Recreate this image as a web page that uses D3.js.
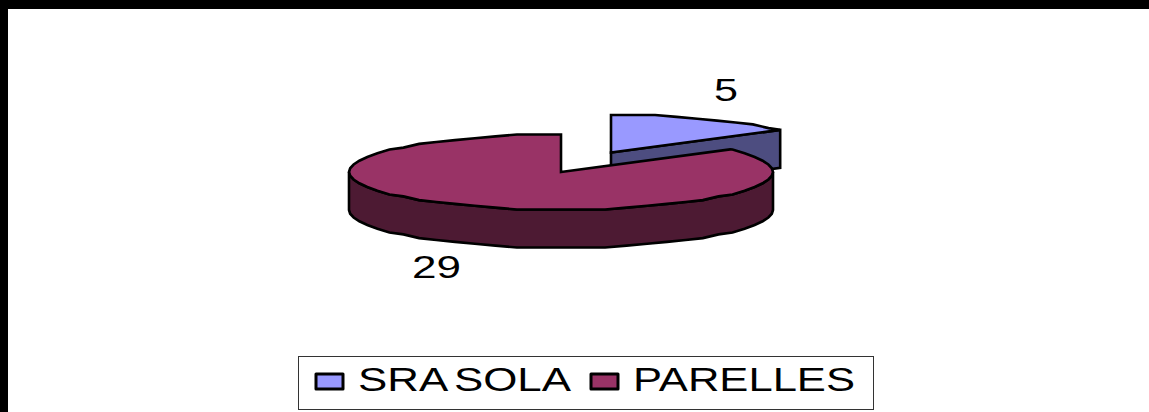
<!DOCTYPE html>
<html>
<head>
<meta charset="utf-8">
<script src="https://cdnjs.cloudflare.com/ajax/libs/d3/7.8.5/d3.min.js"></script>
<style>
    html, body { margin: 0; padding: 0; background: #fff; }
    text { font-family: "Liberation Sans", Arial, sans-serif; fill: #000; }
</style>
</head>
<body>
<div id="chart_box"></div>
<script>
var categories = ["SRA SOLA", "PARELLES"];
var values = [5, 29];
var top_colors = ["#9999ff", "#993366"];
var side_colors = ["#4d4d80", "#4d1a33"];

var width = 1149, height = 412;
var radius_x = 212, radius_y = 37.5, depth = 38;
// the small slice is pulled away from the big one
var centers = [{ x: 611, y: 152.5 }, { x: 561, y: 172 }];

var chart = d3.select("#chart_box").append("svg")
    .attr("width", width)
    .attr("height", height)
    .style("display", "block");

chart.append("rect").attr("width", width).attr("height", height).attr("fill", "#fff");
chart.append("rect").attr("width", width).attr("height", 9).attr("fill", "#000");
chart.append("rect").attr("width", 8).attr("height", height).attr("fill", "#000");

var slices = d3.pie().sort(null)(values);

// flat projection of the pie, angle 0 at 12 o'clock
var unit_x = d3.scaleLinear().domain([-1, 1]).range([-radius_x, radius_x]);
var unit_y = d3.scaleLinear().domain([-1, 1]).range([-radius_y, radius_y]);

function rim(c, a) {
    return [c.x + unit_x(Math.sin(a)), c.y + unit_y(-Math.cos(a))];
}
// fixed angle grid and snapped y give the blocky edge of the original
function rim_points(c, from, to) {
    var step = Math.PI / 30, snap = radius_y / 20;
    var first = Math.ceil(from / step + 0.01), last = Math.floor(to / step - 0.01);
    var pts = d3.range(first, last + 1).map(function (k) {
        var p = rim(c, k * step);
        return [p[0], c.y + Math.round((p[1] - c.y) / snap) * snap];
    });
    return [rim(c, from)].concat(pts, [rim(c, to)]);
}
function drop(p) { return [p[0], p[1] + depth]; }

var line = d3.line();
var g = chart.append("g")
    .attr("stroke", "#000")
    .attr("stroke-width", 2.6)
    .attr("stroke-linejoin", "miter");

// cut face of the small slice, seen from the front
var c0 = centers[0], s0 = slices[0], end0 = rim(c0, s0.endAngle);
var apex0 = [c0.x, c0.y];
g.append("path")
    .attr("d", line([apex0, end0, drop(end0), drop(apex0)]) + "Z")
    .attr("fill", side_colors[0]);
g.append("path")
    .attr("d", line([apex0].concat(rim_points(c0, s0.startAngle, s0.endAngle))) + "Z")
    .attr("fill", top_colors[0]);

// outer wall and top of the big slice
var c1 = centers[1], s1 = slices[1];
var front = rim_points(c1, Math.PI / 2, 3 * Math.PI / 2);
g.append("path")
    .attr("d", line(front.concat(front.map(drop).reverse())) + "Z")
    .attr("fill", side_colors[1]);
g.append("path")
    .attr("d", line([[c1.x, c1.y]].concat(rim_points(c1, s1.startAngle, s1.endAngle))) + "Z")
    .attr("fill", top_colors[1]);

// value labels, stretched wide like the original
chart.append("text").attr("x", 714).attr("y", 101)
    .attr("font-size", 31).attr("textLength", 24).attr("lengthAdjust", "spacingAndGlyphs")
    .text(values[0]);
chart.append("text").attr("x", 412).attr("y", 278)
    .attr("font-size", 31).attr("textLength", 49).attr("lengthAdjust", "spacingAndGlyphs")
    .text(values[1]);

// legend
var legend = chart.append("g");
legend.append("rect")
    .attr("x", 298.5).attr("y", 356.5).attr("width", 575).attr("height", 53)
    .attr("fill", "#fff").attr("stroke", "#333").attr("stroke-width", 1);

var legend_x = [316, 591];
var legend_text_x = [358, 633];
var legend_text_w = [213, 222];
categories.forEach(function (name, i) {
    legend.append("rect")
        .attr("x", legend_x[i]).attr("y", 374).attr("width", 27).attr("height", 15)
        .attr("fill", top_colors[i]).attr("stroke", "#000").attr("stroke-width", 3)
        .attr("stroke-linejoin", "round");
    legend.append("text")
        .attr("x", legend_text_x[i]).attr("y", 391)
        .attr("font-size", 33)
        .attr("word-spacing", -3)
        .attr("textLength", legend_text_w[i]).attr("lengthAdjust", "spacingAndGlyphs")
        .text(name);
});
</script>
</body>
</html>
